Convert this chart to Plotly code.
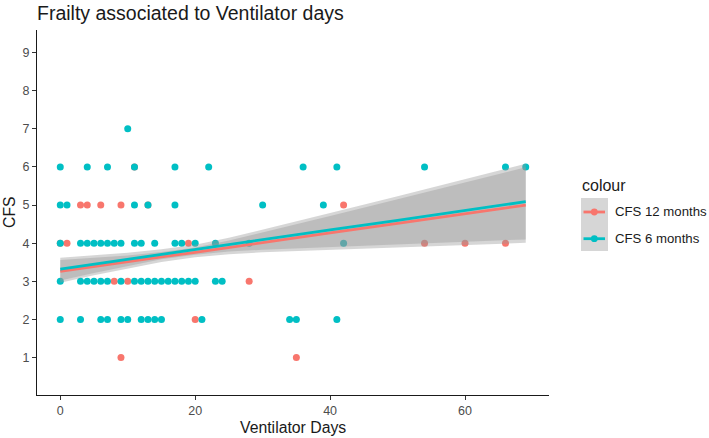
import plotly.graph_objects as go

# ---------------- data ----------------
series_names = ["CFS 12 months", "CFS 6 months"]
series_colors = ["#F8766D", "#00BFC4"]

# CFS 12 months points
vent_12 = [11, 3, 4, 6, 9, 13, 42, 0, 1, 19, 54, 60, 66, 8, 10, 28, 20, 9, 35]
cfs_12 = [6, 5, 5, 5, 5, 5, 5, 4, 4, 4, 4, 4, 4, 3, 3, 3, 2, 1, 1]

# CFS 6 months points
vent_6 = [10,
          0, 4, 7, 11, 17, 22, 36, 41, 54, 66, 69,
          0, 1, 11, 13, 17, 30, 39,
          0, 3, 4, 5, 6, 7, 8, 9, 11, 12, 14, 17, 18, 20, 23, 28, 42,
          0, 3, 4, 5, 6, 7, 9, 11, 12, 13, 14, 15, 16, 17, 18, 19, 20, 23, 24,
          0, 3, 6, 7, 9, 10, 12, 13, 14, 15, 21, 34, 35, 41]
cfs_6 = [7,
         6, 6, 6, 6, 6, 6, 6, 6, 6, 6, 6,
         5, 5, 5, 5, 5, 5, 5,
         4, 4, 4, 4, 4, 4, 4, 4, 4, 4, 4, 4, 4, 4, 4, 4, 4,
         3, 3, 3, 3, 3, 3, 3, 3, 3, 3, 3, 3, 3, 3, 3, 3, 3, 3, 3,
         2, 2, 2, 2, 2, 2, 2, 2, 2, 2, 2, 2, 2, 2]

# linear fits with 95% confidence band
fit_x = [0, 5, 10, 15, 20, 25, 30, 40, 50, 60, 69]
fit_12 = [3.26, 3.39, 3.51, 3.64, 3.76, 3.89, 4.02, 4.27, 4.52, 4.77, 5.00]
low_12 = [2.96, 3.16, 3.34, 3.51, 3.63, 3.71, 3.76, 3.83, 3.89, 3.95, 4.01]
up_12 = [3.56, 3.62, 3.68, 3.77, 3.89, 4.07, 4.28, 4.71, 5.15, 5.59, 5.99]
fit_6 = [3.32, 3.45, 3.58, 3.71, 3.83, 3.96, 4.09, 4.35, 4.60, 4.86, 5.09]
low_6 = [3.02, 3.22, 3.41, 3.58, 3.70, 3.78, 3.83, 3.91, 3.97, 4.04, 4.10]
up_6 = [3.62, 3.68, 3.75, 3.84, 3.96, 4.14, 4.35, 4.79, 5.23, 5.68, 6.08]

x_ticks = [0, 20, 40, 60]
y_ticks = [1, 2, 3, 4, 5, 6, 7, 8, 9]

title_text = "Frailty associated to Ventilator days"
x_title = "Ventilator Days"
y_title = "CFS"
legend_title = "colour"

# ---------------- layout geometry ----------------
W, H = 709, 438
ML, MR, MT, MB = 37, 160, 30, 43
PW, PH = W - ML - MR, H - MT - MB
FONT = "Liberation Sans, Arial, Helvetica, sans-serif"


def px(x):
    return (x - ML) / PW


def py(y):
    return (H - MB - y) / PH


fig = go.Figure()

pts = [(vent_12, cfs_12), (vent_6, cfs_6)]
for (xs, ys), name, col in zip(pts, series_names, series_colors):
    fig.add_trace(go.Scatter(x=xs, y=ys, mode="markers", name=name,
                             marker=dict(color=col, size=7, line=dict(width=0)),
                             showlegend=False))

bands = [(low_12, up_12), (low_6, up_6)]
for lo, up in bands:
    fig.add_trace(go.Scatter(x=fit_x + fit_x[::-1], y=up + lo[::-1],
                             mode="lines", fill="toself",
                             fillcolor="rgba(153,153,153,0.4)",
                             line=dict(width=0), hoverinfo="skip",
                             showlegend=False))

for fy, name, col in zip([fit_12, fit_6], series_names, series_colors):
    fig.add_trace(go.Scatter(x=fit_x, y=fy, mode="lines", name=name,
                             line=dict(color=col, width=2.8),
                             showlegend=False))

axis_common = dict(showgrid=False, zeroline=False, showline=True,
                   linecolor="#1a1a1a", linewidth=1.1, ticks="outside",
                   ticklen=4, tickwidth=1.1, tickcolor="#333333",
                   tickfont=dict(family=FONT, size=12.5, color="#4d4d4d"))

fig.update_xaxes(range=[-3.45, 72.45], tickvals=x_ticks, **axis_common)
fig.update_yaxes(range=[0.02, 9.59], tickvals=y_ticks, **axis_common)

shapes = []
annotations = []

# manual legend (ggplot-style)
shapes.append(dict(type="rect", xref="paper", yref="paper",
                   x0=px(581), x1=px(608), y0=py(251), y1=py(198),
                   fillcolor="#d6d6d6", line=dict(width=0), layer="above"))
annotations.append(dict(text=legend_title, xref="paper", yref="paper",
                        x=px(580), y=py(185), xanchor="left", yanchor="middle",
                        showarrow=False,
                        font=dict(family=FONT, size=16, color="#1a1a1a")))
for i, (name, col) in enumerate(zip(series_names, series_colors)):
    yc = 212 + i * 26.7
    shapes.append(dict(type="line", xref="paper", yref="paper",
                       x0=px(583.5), x1=px(605), y0=py(yc), y1=py(yc),
                       line=dict(color=col, width=2.8), layer="above"))
    shapes.append(dict(type="circle", xref="paper", yref="paper",
                       x0=px(594.3 - 3.4), x1=px(594.3 + 3.4),
                       y0=py(yc + 3.4), y1=py(yc - 3.4),
                       fillcolor=col, line=dict(width=0), layer="above"))
    annotations.append(dict(text=name, xref="paper", yref="paper",
                            x=px(613), y=py(yc), xanchor="left", yanchor="middle",
                            showarrow=False,
                            font=dict(family=FONT, size=13.2, color="#1a1a1a")))

# axis titles
annotations.append(dict(text=x_title, xref="paper", yref="paper",
                        x=px(293), y=py(427), xanchor="center", yanchor="middle",
                        showarrow=False,
                        font=dict(family=FONT, size=15.8, color="#1a1a1a")))
annotations.append(dict(text=y_title, xref="paper", yref="paper",
                        x=px(10), y=py(212), xanchor="center", yanchor="middle",
                        textangle=-90, showarrow=False,
                        font=dict(family=FONT, size=15.8, color="#1a1a1a")))

fig.update_layout(
    width=W, height=H, autosize=False,
    margin=dict(l=ML, r=MR, t=MT, b=MB, pad=0),
    paper_bgcolor="white", plot_bgcolor="white",
    title=dict(text=title_text, x=37 / W, xref="container", xanchor="left",
               y=1 - 13 / H, yref="container", yanchor="middle",
               font=dict(family=FONT, size=19.5, color="#1a1a1a")),
    shapes=shapes, annotations=annotations,
    showlegend=False,
)

fig.write_html("out.html",
               config={"displayModeBar": False},
               post_script="document.body.style.margin='0px';"
                           "document.body.style.overflow='hidden';")
